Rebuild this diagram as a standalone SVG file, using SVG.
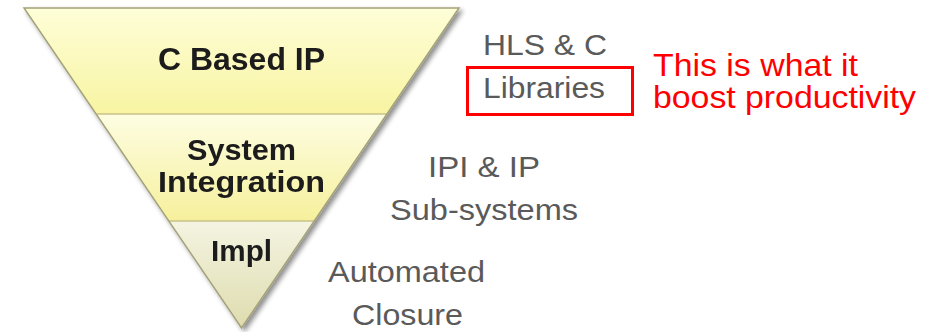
<svg xmlns="http://www.w3.org/2000/svg" width="932" height="332" viewBox="0 0 932 332">
  <defs>
    <linearGradient id="gTop" x1="0" y1="8" x2="0" y2="114" gradientUnits="userSpaceOnUse">
      <stop offset="0" stop-color="#fefed8"/>
      <stop offset="1" stop-color="#f8f4a2"/>
    </linearGradient>
    <linearGradient id="gMid" x1="0" y1="114" x2="0" y2="221" gradientUnits="userSpaceOnUse">
      <stop offset="0" stop-color="#fdfde2"/>
      <stop offset="1" stop-color="#f6f09c"/>
    </linearGradient>
    <linearGradient id="gLow" x1="0" y1="221" x2="0" y2="328" gradientUnits="userSpaceOnUse">
      <stop offset="0" stop-color="#f4f4e2"/>
      <stop offset="1" stop-color="#dedcae"/>
    </linearGradient>
    <filter id="shadow" x="-10%" y="-10%" width="125%" height="125%">
      <feGaussianBlur in="SourceAlpha" stdDeviation="2.5"/>
      <feOffset dx="3" dy="3" result="b"/>
      <feComponentTransfer><feFuncA type="linear" slope="0.45"/></feComponentTransfer>
      <feMerge><feMergeNode/><feMergeNode in="SourceGraphic"/></feMerge>
    </filter>
  </defs>
  <style>
    .band { stroke: none; }
    .divider { stroke: #c9c38a; stroke-width: 1.5; }
    .outline { fill: none; stroke: #a4a27a; stroke-width: 1.5; stroke-linejoin: miter; }
    .lvl { font-family: "Liberation Sans", Arial, sans-serif; font-weight: bold; fill: #1a1a1a; text-anchor: middle; }
    .side { font-family: "Liberation Sans", Arial, sans-serif; font-size: 29px; fill: #5a5a5a; }
    .note { font-family: "Liberation Sans", Arial, sans-serif; font-size: 32px; fill: #ff0000; }
  </style>
  <rect width="932" height="332" fill="#ffffff"/>

  <!-- inverted pyramid -->
  <g id="pyramid" filter="url(#shadow)">
    <g id="level-c-based-ip">
      <polygon class="band" fill="url(#gTop)" points="24,8 459,8 386.95,114 96.05,114"/>
      <text class="lvl" x="241.5" y="70" font-size="32" textLength="167" lengthAdjust="spacingAndGlyphs">C Based IP</text>
    </g>
    <g id="level-system-integration">
      <polygon class="band" fill="url(#gMid)" points="96.05,114 386.95,114 314.2,221 168.8,221"/>
      <text class="lvl" x="241.5" y="160" font-size="30" textLength="109" lengthAdjust="spacingAndGlyphs">System</text>
      <text class="lvl" x="241.5" y="192" font-size="30" textLength="167" lengthAdjust="spacingAndGlyphs">Integration</text>
    </g>
    <g id="level-impl">
      <polygon class="band" fill="url(#gLow)" points="168.8,221 314.2,221 241.5,328"/>
      <text class="lvl" x="241.5" y="261" font-size="30" textLength="61" lengthAdjust="spacingAndGlyphs">Impl</text>
    </g>
    <line class="divider" x1="96.05" y1="114" x2="386.95" y2="114"/>
    <line class="divider" x1="168.8" y1="221" x2="314.2" y2="221"/>
    <polygon class="outline" points="24,8 459,8 241.5,328"/>
  </g>

  <!-- side labels -->
  <g id="label-hls">
    <text class="side" x="483" y="55" textLength="124" lengthAdjust="spacingAndGlyphs">HLS &amp; C</text>
    <text class="side" x="483" y="98" textLength="122" lengthAdjust="spacingAndGlyphs">Libraries</text>
    <rect x="467.5" y="67.5" width="165" height="47" fill="none" stroke="#ff0000" stroke-width="3"/>
  </g>
  <g id="label-ipi">
    <text class="side" x="428" y="177" textLength="112" lengthAdjust="spacingAndGlyphs">IPI &amp; IP</text>
    <text class="side" x="390" y="220" textLength="188" lengthAdjust="spacingAndGlyphs">Sub-systems</text>
  </g>
  <g id="label-closure">
    <text class="side" x="328" y="282" textLength="157" lengthAdjust="spacingAndGlyphs">Automated</text>
    <text class="side" x="352" y="325" textLength="111" lengthAdjust="spacingAndGlyphs">Closure</text>
  </g>

  <!-- annotation -->
  <g id="note">
    <text class="note" x="653" y="76" textLength="205" lengthAdjust="spacingAndGlyphs">This is what it</text>
    <text class="note" x="653" y="108" textLength="263" lengthAdjust="spacingAndGlyphs">boost productivity</text>
  </g>
  <g id="connectors"/>
</svg>
